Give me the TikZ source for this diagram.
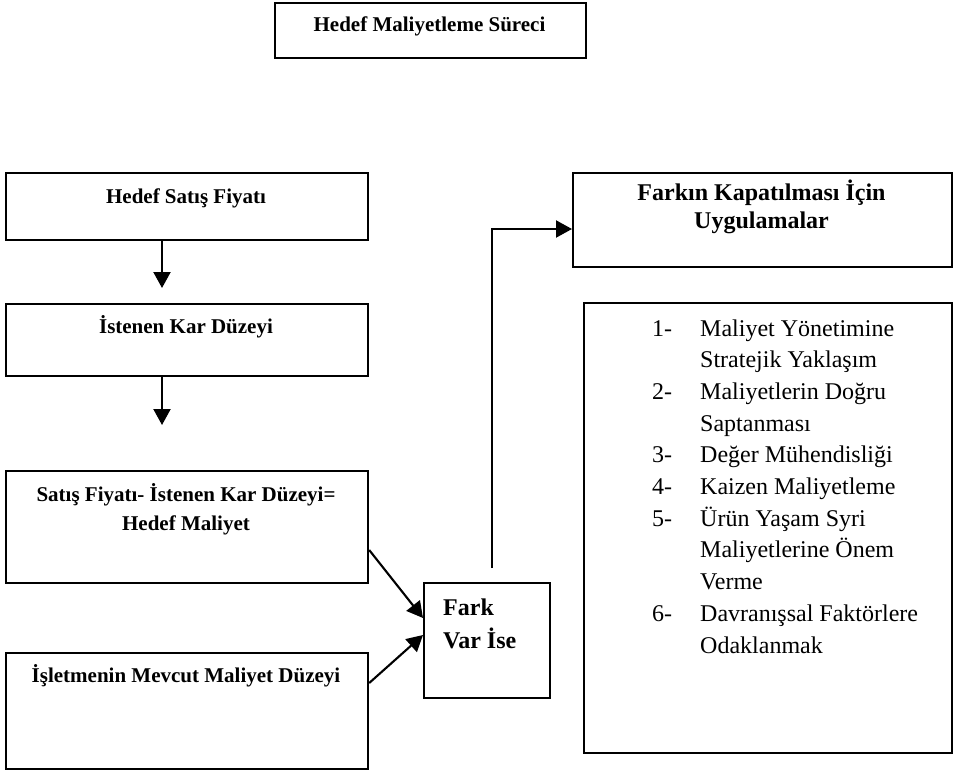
\documentclass[tikz,border=0pt]{standalone}
\usepackage{fontspec}
\setmainfont{Liberation Serif}
\usetikzlibrary{arrows.meta}
\begin{document}
\begin{tikzpicture}[x=1pt,y=-1pt,
  box/.style={draw, line width=2.2pt, rectangle, inner sep=0pt, anchor=north west},
  lbl/.style={inner sep=0pt, anchor=base, font=\bfseries\fontsize{21}{29}\selectfont},
  bigl/.style={inner sep=0pt, font=\bfseries\fontsize{24}{28}\selectfont},
  conn/.style={line width=2.1pt, -{Triangle[width=17pt,length=16pt]}},
]
\useasboundingbox (0,0) rectangle (960,772);

% frames
\node[box, minimum width=311pt, minimum height=55pt] (title) at (274,2) {};
\node[box, minimum width=362pt, minimum height=67pt] (b1) at (5,172) {};
\node[box, minimum width=362pt, minimum height=72pt] (b2) at (5,303) {};
\node[box, minimum width=362pt, minimum height=112pt] (b3) at (5,470) {};
\node[box, minimum width=362pt, minimum height=116pt] (b4) at (5,652) {};
\node[box, minimum width=126pt, minimum height=115pt] (fark) at (423,582) {};
\node[box, minimum width=379pt, minimum height=94pt] (kap) at (572,172) {};
\node[box, minimum width=368pt, minimum height=450pt] (list) at (583,302) {};

% labels
\node[lbl] (titletxt) at (429.5,31) {Hedef Maliyetleme Süreci};
\node[lbl] (t1) at (186,203) {Hedef Satış Fiyatı};
\node[lbl] (t2) at (186,333) {İstenen Kar Düzeyi};
\node[lbl] (t3) at (186,501) {\setlength{\tabcolsep}{0pt}\begin{tabular}[t]{c}Satış Fiyatı- İstenen Kar Düzeyi=\\Hedef Maliyet\end{tabular}};
\node[lbl] (t4) at (186,682) {İşletmenin Mevcut Maliyet Düzeyi};
\node[bigl, anchor=base west] (farktxt) at (443,615) {\fontsize{24}{33}\selectfont\setlength{\tabcolsep}{0pt}\begin{tabular}[t]{l}Fark\\Var İse\end{tabular}};
\node[bigl, anchor=base] (kaptxt) at (761.5,200) {\setlength{\tabcolsep}{0pt}\begin{tabular}[t]{c}Farkın Kapatılması İçin\\Uygulamalar\end{tabular}};
\node[inner sep=0pt, anchor=base west, font=\fontsize{24}{31.7}\selectfont] (listtxt) at (652,336)
 {\setlength{\tabcolsep}{0pt}\begin{tabular}[t]{p{48pt}l}
  1- & Maliyet Yönetimine\\
     & Stratejik Yaklaşım\\
  2- & Maliyetlerin Doğru\\
     & Saptanması\\
  3- & Değer Mühendisliği\\
  4- & Kaizen Maliyetleme\\
  5- & Ürün Yaşam Syri\\
     & Maliyetlerine Önem\\
     & Verme\\
  6- & Davranışsal Faktörlere\\
     & Odaklanmak
 \end{tabular}};

% connectors
\coordinate (a1e) at (162,288);
\coordinate (a2e) at (162,425);
\coordinate (up) at (492,568);
\draw[conn] ([xshift=157pt]b1.south west) -- (a1e);
\draw[conn] ([xshift=157pt]b2.south west) -- (a2e);
\draw[conn] ([yshift=-80pt]b3.north east) -- ([yshift=-36pt]fark.north west);
\draw[conn] ([yshift=-31pt]b4.north east) -- ([yshift=-53pt]fark.north west);
\draw[conn] (up) |- ([yshift=-57pt]kap.north west);
\end{tikzpicture}
\end{document}
